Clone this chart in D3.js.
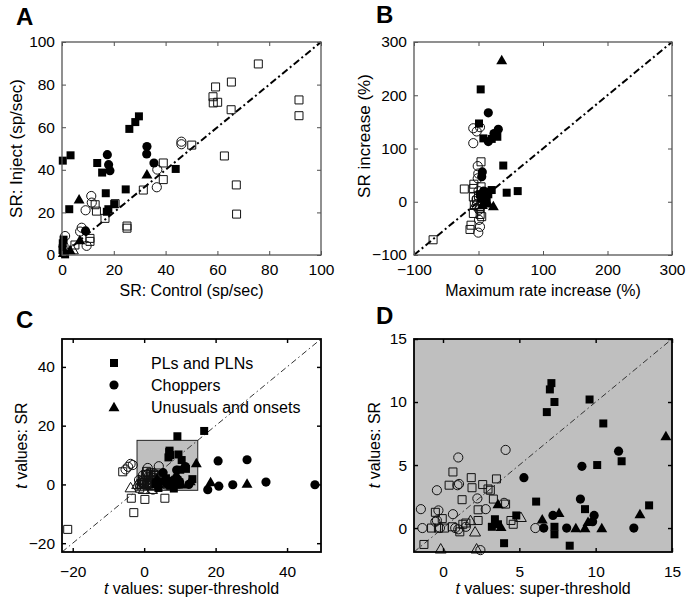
<!DOCTYPE html>
<html><head><meta charset="utf-8">
<script src="https://cdn.jsdelivr.net/npm/d3@7"></script>
<style>body{margin:0;background:#fff}svg{display:block;font-family:"Liberation Sans",Arial,sans-serif}</style>
</head><body><svg id="c" width="691" height="602"></svg>
<script>
// ---------- tick values ----------
const aTicks = [0, 20, 40, 60, 80, 100];
const bTicks = [-100, 0, 100, 200, 300];
const cTicks = [-20, 0, 20, 40];
const dTicks = [0, 5, 10, 15];

// ---------- legend ----------
const legendLabels = ["PLs and PLNs", "Choppers", "Unusuals and onsets"];

// ---------- Panel A: SR control vs inject (sp/sec) ----------
const aPLsFilled = [[0.3,44.3],[3.3,46.8],[29.7,65.1],[28.3,62.4],[26.0,59.2],[13.6,43.2],[15.5,38.7],[43.9,40.4],[24.6,30.8],[16.9,29.0],[2.8,21.5],[20.2,23.9],[17.9,21.5],[17.3,20.3],[0.6,7.2],[0.3,5.5],[0.2,2.3],[1.2,0.3]];
const aChopFilled = [[17.5,47.1],[18.0,42.4],[18.5,39.6],[32.8,50.9],[32.7,47.4],[35.5,43.2],[9.1,11.3]];
const aUnusFilled = [[6.6,26.1],[32.8,37.9],[6.9,7.0],[3.1,2.3],[0.5,1.0]];
const aPLsOpen = [[75.8,89.7],[65.4,81.2],[59.3,78.9],[58.3,74.3],[58.4,71.4],[60.1,71.7],[65.3,68.2],[91.5,72.8],[91.5,65.4],[62.7,46.5],[67.3,32.9],[67.4,19.2],[50.1,51.6],[39.1,43.2],[39.1,35.4],[31.4,30.5],[25.1,13.6],[25.1,12.6],[12.8,23.6],[13.3,20.6],[16.6,17.2],[20.5,24.1],[10.8,7.8],[10.8,6.4],[5.0,4.7]];
const aChopOpen = [[46.1,53.2],[46.1,52.0],[36.8,40.1],[36.6,31.8],[11.3,27.7],[11.5,24.6],[9.1,21.0],[7.6,12.8],[7.0,11.0],[9.5,4.3],[1.2,8.9],[0.6,4.2]];
const aUnusOpen = [[4.2,2.5]];

// ---------- Panel B: max rate increase vs SR increase (%) ----------
const bPLsFilled = [[3.4,211],[0.8,147],[7.5,119],[20.5,118],[29.2,122],[38.4,68],[20.5,22],[43.7,17],[60.8,20],[9,19],[2.3,14],[15.2,14],[12.7,0],[4,6]];
const bChopFilled = [[15.2,167],[30.7,136],[15.2,113],[24,128],[5.9,56],[5.0,47],[8,20]];
const bUnusFilled = [[36,266],[23,-8],[15.2,-3],[6,-6]];
const bPLsOpen = [[-70.4,-71.4],[-22,24],[3.9,75],[-8,25],[-8,9],[-6.5,-6],[-8,-22],[-11.6,-44],[-13.2,-52],[5,-28],[2.6,-24],[-7.2,33],[0,12],[2,-12],[-3,2],[4,28]];
const bChopOpen = [[-8.1,138],[-2.8,132],[2.3,140],[-8.1,110],[-1.2,67],[-0.3,53],[-1.2,44],[0.8,-34],[2.3,-47],[-0.3,-58],[0,20],[-3,5],[1,-15]];
const bUnusOpen = [[-5,-5],[1,-8]];

// ---------- Panels C and D: t values (super-threshold vs SR) ----------
const tPLsFilled = [[7.1,11.5],[7.0,11.0],[7.3,10.0],[6.8,9.2],[9.6,10.2],[10.5,8.3],[10.1,5.0],[11.7,5.3],[6.1,2.1],[9.3,1.5],[13.5,1.8],[4.8,1.0],[3.4,0.7],[3.2,0.1],[3.6,0.3],[7.3,0.1],[7.3,-0.5],[4.0,-1.2],[8.3,-1.4],[9.3,16.4],[16.8,18.2]];
const tChopFilled = [[5.3,4.0],[9.1,4.9],[11.5,6.1],[9.0,2.3],[7.2,1.0],[9.9,1.0],[6.6,0],[8.1,0],[9.8,0.5],[12.5,0],[20.7,8.0],[28.8,8.4],[17.8,-1.8],[20.9,-0.6],[24.8,-0.1],[34.1,0.8],[47.8,-0.1]];
const tUnusFilled = [[14.6,7.3],[12.9,1.1],[6.5,0.7],[7.6,1.2],[3.6,1.9],[3.8,0.1],[8.7,0],[9.5,0.5],[10.4,0],[9.3,0],[18.6,0.8],[28.8,0.3]];
const tPLsOpen = [[0.65,4.45],[0.4,3.4],[1.85,4.0],[1.9,3.2],[2.6,3.45],[2.95,3.1],[3.1,3.0],[3.5,3.9],[1.25,2.25],[3.3,2.3],[4.1,1.9],[2.3,1.45],[-0.5,1.25],[-0.05,0.75],[2.3,0.6],[1.5,0.4],[1.1,-0.3],[-0.75,0],[-0.3,0],[0.1,0],[4.6,0.3],[4.45,0.6],[-1.25,-1.3],[1.3,0.3],[0.6,0.1],[-21.4,-15.3],[-2.9,-9.6],[-3.6,-4.7],[0.2,-5.1],[5.8,-4.7],[-6.0,4.3]];
const tChopOpen = [[4.1,6.2],[1.0,5.6],[1.05,3.5],[0.95,3.4],[-0.4,3.0],[-1.45,1.5],[-0.3,1.4],[0.65,1.1],[2.25,2.35],[2.8,1.5],[4.0,2.0],[6.05,0],[-1.35,0],[-0.5,0.5],[-0.4,0.6],[0.8,0],[1.5,0.1],[2.45,-1.75],[-0.2,0],[1.0,-0.1],[-4.5,6.0],[-3.8,7.0],[-3.2,6.6],[-5.2,5.1]];
const tUnusOpen = [[-1.95,0],[-0.15,-1.65],[2.2,-1.65],[2.1,-0.3],[5.1,0.85],[1.8,0.6],[-3.8,-1.1]];

const svg = d3.select("#c");
const GRAY = "#bfbfbf";

const symSq = d3.symbol().type(d3.symbolSquare).size(64)();
const symCi = d3.symbol().type(d3.symbolCircle).size(66)();
const symTr = d3.symbol().type(d3.symbolTriangle).size(52)();

function panel(o) {
  const x = d3.scaleLinear().domain(o.xd).range([o.x0, o.x1]);
  const y = d3.scaleLinear().domain(o.yd).range([o.y1, o.y0]);
  const g = svg.append("g");
  if (o.bg) g.append("rect").attr("x", o.x0).attr("y", o.y0)
      .attr("width", o.x1 - o.x0).attr("height", o.y1 - o.y0).attr("fill", o.bg);
  if (o.box) g.append("rect").attr("x", x(o.box[0])).attr("y", y(o.box[1]))
      .attr("width", x(o.box[1]) - x(o.box[0])).attr("height", y(o.box[0]) - y(o.box[1]))
      .attr("fill", GRAY).attr("stroke", "#222").attr("stroke-width", 1);
  // diagonal
  const lo = Math.max(o.xd[0], o.yd[0]), hi = Math.min(o.xd[1], o.yd[1]);
  g.append("line").attr("x1", x(lo)).attr("y1", y(lo)).attr("x2", x(hi)).attr("y2", y(hi))
    .attr("stroke", o.diagColor).attr("stroke-width", o.diagW).attr("stroke-dasharray", o.dash);
  // markers
  const inDom = d => d[0] >= o.xd[0] && d[0] <= o.xd[1] && d[1] >= o.yd[0] && d[1] <= o.yd[1];
  const draw = (data, sym, filled) => {
    g.selectAll(null).data(data.filter(inDom)).join("path")
      .attr("d", sym)
      .attr("transform", d => `translate(${x(d[0])},${y(d[1])})` + (sym === symTr ? " translate(0,1)" : ""))
      .attr("fill", filled ? "#000" : "none")
      .attr("stroke", filled ? "none" : "#111").attr("stroke-width", 1);
  };
  draw(o.data[3], symSq, false); draw(o.data[4], symCi, false); draw(o.data[5], symTr, false);
  draw(o.data[0], symSq, true); draw(o.data[1], symCi, true); draw(o.data[2], symTr, true);
  // frame
  g.append("rect").attr("x", o.x0).attr("y", o.y0).attr("width", o.x1 - o.x0).attr("height", o.y1 - o.y0)
    .attr("fill", "none").attr("stroke", o.frame).attr("stroke-width", o.frameW);
  // axes
  const style = (sel) => {
    sel.select(".domain").remove();
    sel.selectAll(".tick line").attr("stroke", o.frame).attr("stroke-width", o.frameW * 0.8);
    sel.selectAll(".tick text").attr("fill", "#000").attr("font-size", 15.5)
      .attr("font-family", '"Liberation Sans", Arial, sans-serif');
  };
  g.append("g").attr("transform", `translate(0,${o.y1})`)
    .call(d3.axisBottom(x).tickValues(o.xt).tickSize(-4).tickPadding(o.xpad).tickFormat(d3.format("d"))).call(style);
  g.append("g").attr("transform", `translate(0,${o.y0})`)
    .call(d3.axisTop(x).tickValues(o.xt).tickSize(-4).tickFormat("")).call(style);
  g.append("g").attr("transform", `translate(${o.x0},0)`)
    .call(d3.axisLeft(y).tickValues(o.yt).tickSize(-4).tickPadding(7).tickFormat(d3.format("d"))).call(style);
  g.append("g").attr("transform", `translate(${o.x1},0)`)
    .call(d3.axisRight(y).tickValues(o.yt).tickSize(-4).tickFormat("")).call(style);
  // x label
  const xl = g.append("text").attr("x", (o.x0 + o.x1) / 2).attr("y", o.xlY)
    .attr("text-anchor", "middle").attr("font-size", 16);
  o.xlabel.forEach(p => xl.append("tspan").text(p[0]).attr("font-style", p[1] ? "italic" : null));
  const yl = g.append("text").attr("transform", `translate(${o.ylX},${o.ylC}) rotate(-90)`)
    .attr("text-anchor", "middle").attr("font-size", o.ylSize);
  o.ylabel.forEach(p => yl.append("tspan").text(p[0]).attr("font-style", p[1] ? "italic" : null));
  // panel letter
  svg.append("text").attr("x", o.lx).attr("y", o.ly).attr("font-size", 24).attr("font-weight", "bold").text(o.letter);
  return {x, y, g};
}

panel({x0: 62, x1: 321, y0: 42, y1: 255, xd: [0, 100], yd: [0, 100], xt: aTicks, yt: aTicks,
  data: [aPLsFilled, aChopFilled, aUnusFilled, aPLsOpen, aChopOpen, aUnusOpen],
  diagColor: "#000", diagW: 2, dash: "7,3,2,3", frame: "#555", frameW: 1.3, xpad: 9,
  xlabel: [["SR: Control (sp/sec)", false]], xlY: 296, ylabel: [["SR: Inject (sp/sec)", false]],
  ylX: 22, ylC: 148.5, ylSize: 17, letter: "A", lx: 16, ly: 25});

panel({x0: 414, x1: 672, y0: 42, y1: 255, xd: [-100, 300], yd: [-100, 300], xt: bTicks, yt: bTicks,
  data: [bPLsFilled, bChopFilled, bUnusFilled, bPLsOpen, bChopOpen, bUnusOpen],
  diagColor: "#000", diagW: 2, dash: "7,3,2,3", frame: "#555", frameW: 1.3, xpad: 9,
  xlabel: [["Maximum rate increase (%)", false]], xlY: 296, ylabel: [["SR increase (%)", false]],
  ylX: 370, ylC: 136, ylSize: 17, letter: "B", lx: 376, ly: 23});

panel({x0: 62, x1: 321, y0: 339, y1: 552, xd: [-23, 49.5], yd: [-23, 49.5], xt: cTicks, yt: cTicks,
  box: [-2, 15],
  data: [tPLsFilled, tChopFilled, tUnusFilled, tPLsOpen, tChopOpen, tUnusOpen],
  diagColor: "#333", diagW: 1, dash: "6,3,1.5,3", frame: "#000", frameW: 1.8, xpad: 14,
  xlabel: [["t", true], [" values: super-threshold", false]], xlY: 594,
  ylabel: [["t", true], [" values: SR", false]], ylX: 27, ylC: 445.5, ylSize: 16, letter: "C", lx: 16, ly: 328});

panel({x0: 414, x1: 672, y0: 339, y1: 552, xd: [-1.9, 15], yd: [-1.9, 15], xt: dTicks, yt: dTicks,
  bg: GRAY,
  data: [tPLsFilled, tChopFilled, tUnusFilled, tPLsOpen, tChopOpen, tUnusOpen],
  diagColor: "#333", diagW: 1, dash: "6,3,1.5,3", frame: "#000", frameW: 1.8, xpad: 14,
  xlabel: [["t", true], [" values: super-threshold", false]], xlY: 594,
  ylabel: [["t", true], [" values: SR", false]], ylX: 380, ylC: 445, ylSize: 16, letter: "D", lx: 376, ly: 324});

// legend in C
const legSyms = [symSq, symCi, symTr];
const lg = svg.append("g");
legendLabels.forEach((t, i) => {
  const yy = 363 + i * 22;
  lg.append("path").attr("d", legSyms[i]).attr("transform", `translate(114,${yy + (i === 2 ? 1 : 0)})`).attr("fill", "#000");
  lg.append("text").attr("x", 151).attr("y", yy + 6).attr("font-size", 16).text(t);
});
</script></body></html>
